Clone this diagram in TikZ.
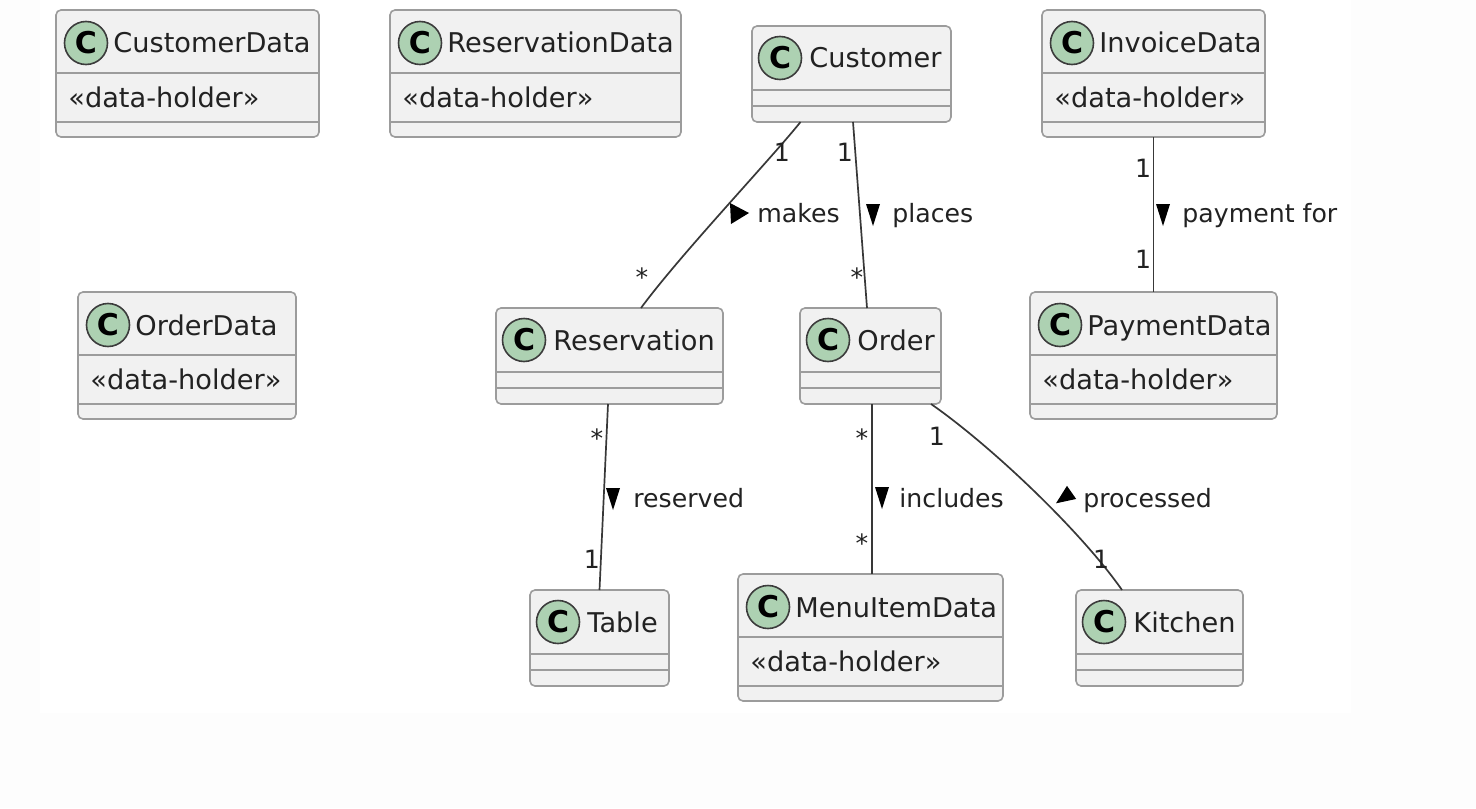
\documentclass[tikz,border=0pt]{standalone}
\usepackage{fontspec}
\setmainfont{DejaVu Sans}
\usetikzlibrary{calc,fit}

\definecolor{boxfill}{HTML}{F1F1F1}
\definecolor{boxline}{HTML}{9C9C9C}
\definecolor{spotfill}{HTML}{ADD1B2}
\definecolor{spotline}{HTML}{3C3C3C}
\definecolor{edgeline}{HTML}{383838}
\definecolor{textcol}{HTML}{222222}
\definecolor{pagebg}{HTML}{FDFDFD}

\tikzset{
  classbox/.style={draw=boxline, fill=boxfill, rounded corners=2.5pt, line width=0.8pt, inner sep=0pt, outer sep=0pt},
  divider/.style={draw=boxline, line width=0.8pt},
  spot/.style={circle, draw=spotline, fill=spotfill, line width=0.8pt, minimum size=21.5pt, inner sep=0pt, font=\bfseries\fontsize{15}{15}\selectfont},
  title/.style={anchor=base west, inner sep=0pt, text=textcol, font=\fontsize{13.6}{16}\selectfont},
  assoc/.style={draw=edgeline, line width=0.85pt},
  mult/.style={anchor=base, inner sep=0pt, text=textcol, font=\fontsize{12.6}{15}\selectfont},
  lbl/.style={anchor=base west, inner sep=0pt, text=textcol, font=\fontsize{12.6}{15}\selectfont},
  tri/.style={fill=black},
}

% class with a <<data-holder>> compartment: name, x1, y1, x2, y2, title
\newcommand\DataClass[6]{%
  \path (#2,#3) coordinate (#1-nw) (#4,#5) coordinate (#1-se);
  \node[classbox, fit=(#1-nw)(#1-se)] (#1) {};
  \draw[divider] (#2,#3+63) -- (#4,#3+63);
  \draw[divider] (#2,#5-15) -- (#4,#5-15);
  \node[spot] (#1-c) at (#2+30,#3+33) {C};
  \node[title] (#1-t) at (#2+57,#3+43) {#6};
  \node[title] (#1-s) at (#2+12,#3+97) {«data-holder»};
}
% plain class with two empty compartments
\newcommand\PlainClass[6]{%
  \path (#2,#3) coordinate (#1-nw) (#4,#5) coordinate (#1-se);
  \node[classbox, fit=(#1-nw)(#1-se)] (#1) {};
  \draw[divider] (#2,#3+64) -- (#4,#3+64);
  \draw[divider] (#2,#3+80) -- (#4,#3+80);
  \node[spot] (#1-c) at (#2+28,#3+32) {C};
  \node[title] (#1-t) at (#2+57,#3+42) {#6};
}

\begin{document}
\begin{tikzpicture}[x=0.5pt, y=-0.5pt]

  \useasboundingbox (0,0) rectangle (1476,808);
  \fill[pagebg] (0,0) rectangle (1476,808);
  \fill[white] (40,0) rectangle (1351,713);

  %% top row
  \DataClass{custd}{56}{10}{319}{137}{CustomerData}
  \DataClass{resd}{390}{10}{681}{137}{ReservationData}
  \PlainClass{cust}{752}{26}{951}{122}{Customer}
  \DataClass{invd}{1042}{10}{1265}{137}{InvoiceData}

  %% middle row
  \DataClass{ordd}{78}{292}{296}{419}{OrderData}
  \PlainClass{res}{496}{308}{723}{404}{Reservation}
  \PlainClass{ord}{800}{308}{941}{404}{Order}
  \DataClass{payd}{1030}{292}{1277}{419}{PaymentData}

  %% bottom row
  \PlainClass{tab}{530}{590}{669}{686}{Table}
  \DataClass{menud}{738}{574}{1003}{701}{MenuItemData}
  \PlainClass{kit}{1076}{590}{1243}{686}{Kitchen}

  \draw[assoc] ($(cust.south)+(-51,0)$) .. controls (770,160) and (680,255) .. ($(res.north)+(31.5,0)$); %% Customer->Reservation
  \node[mult] (m1) at (782,162) {1};
  \node[mult] (m2) at (642,286) {*};
  \fill[tri] (730,203) -- (749,213) -- (731,224) -- cycle;
  \node[lbl] (lmakes) at (757,222) {makes};

  \draw[assoc] ($(cust.south)+(1.5,0)$) -- ($(ord.north)+(-3.5,0)$); %% Customer->Order
  \node[mult] (m3) at (845,162) {1};
  \node[mult] (m4) at (857,286) {*};
  \fill[tri] (866,204) -- (880,204) -- (873,226) -- cycle;
  \node[lbl] (lplaces) at (892,222) {places};

  \draw[assoc] (invd.south) -- (payd.north); %% InvoiceData->PaymentData
  \node[mult] (m5) at (1143,177) {1};
  \node[mult] (m6) at (1143,268) {1};
  \fill[tri] (1156,204) -- (1170,204) -- (1163,226) -- cycle;
  \node[lbl] (lpay) at (1182,222) {payment for};

  \draw[assoc] ($(res.south)+(-1.5,0)$) -- (tab.north); %% Reservation->Table
  \node[mult] (m7) at (597,447) {*};
  \node[mult] (m8) at (592,568) {1};
  \fill[tri] (606,488) -- (620,488) -- (613,510) -- cycle;
  \node[lbl] (lres) at (633,507) {reserved};

  \draw[assoc] ($(ord.south)+(1.5,0)$) -- ($(menud.north)+(1.5,0)$); %% Order->MenuItemData
  \node[mult] (m9) at (862,447) {*};
  \node[mult] (m10) at (862,552) {*};
  \fill[tri] (875,487) -- (889,487) -- (882,509) -- cycle;
  \node[lbl] (linc) at (899,507) {includes};

  \draw[assoc] ($(ord.south)+(60.5,0)$) .. controls (990,445) and (1080,530) .. ($(kit.north)+(-37.5,0)$); %% Order->Kitchen
  \node[mult] (m11) at (937,445) {1};
  \node[mult] (m12) at (1101,568) {1};
  \fill[tri, shift={(1065,497)}, rotate=-145] (11,0) -- (-8,-8) -- (-8,8) -- cycle;
  \node[lbl] (lproc) at (1083,507) {processed};

\end{tikzpicture}
\end{document}
